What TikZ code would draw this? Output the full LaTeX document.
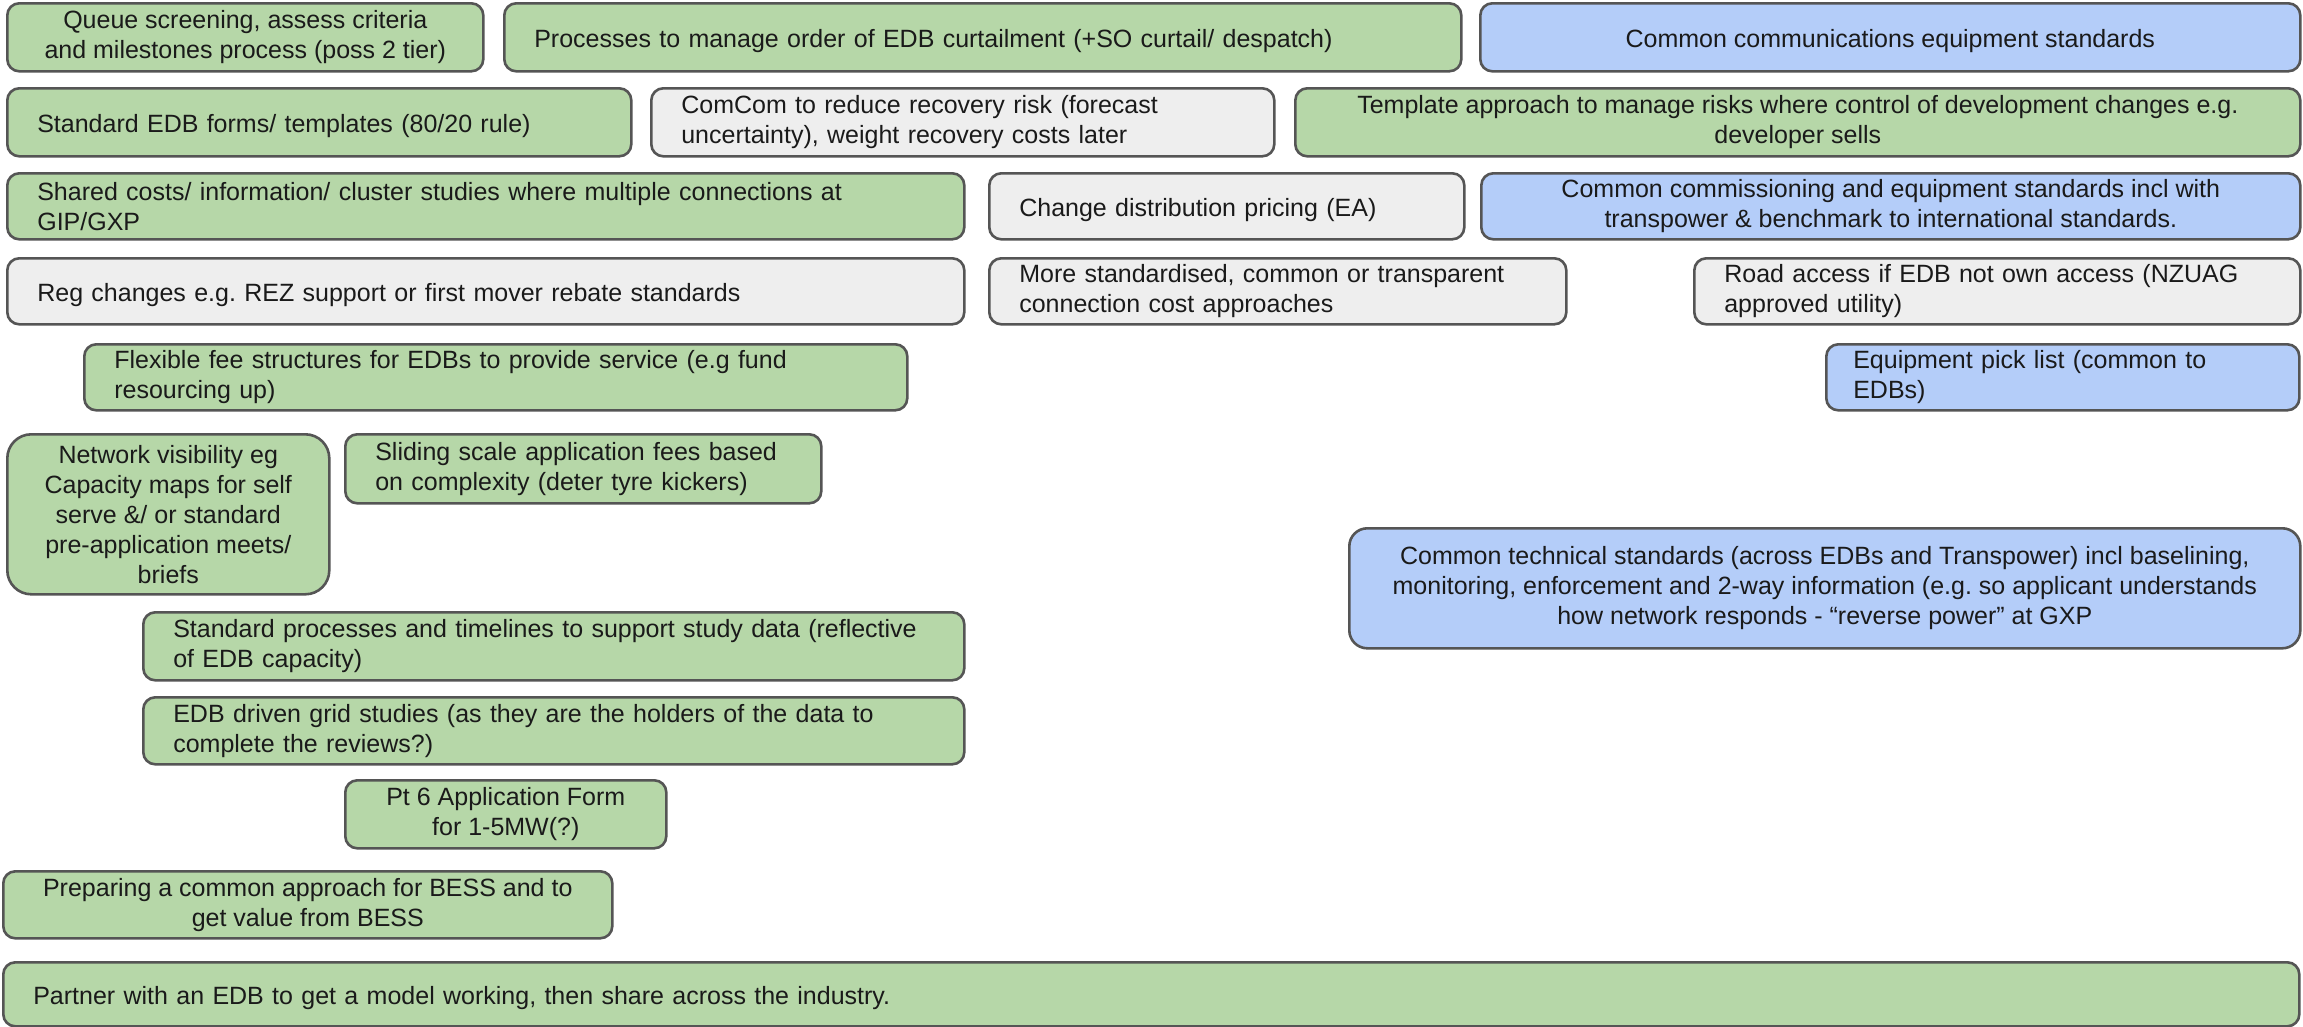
\documentclass[tikz,border=0pt]{standalone}
\usepackage{fontspec}
\setmainfont{Liberation Sans}
\frenchspacing
\definecolor{grnc}{HTML}{B6D7A8}
\definecolor{bluc}{HTML}{B4CDF9}
\definecolor{gryc}{HTML}{EEEEEE}
\definecolor{bordc}{HTML}{555555}
\definecolor{txtc}{HTML}{1A1A1A}
\begin{document}
\begin{tikzpicture}[x=1pt,y=-1pt,
  base/.style={draw=bordc, line width=2.6pt, rounded corners=12pt, inner ysep=0pt,
    font=\fontsize{25pt}{30pt}\selectfont\frenchspacing, text=txtc, anchor=north west},
  grn/.style={base, fill=grnc},
  blu/.style={base, fill=bluc},
  gry/.style={base, fill=gryc},
  lft/.style={align=left, inner xsep=30pt, text width=#1},
  ctr/.style={align=center, inner xsep=8pt},
  one/.style={text height=25pt},
  sz/.style 2 args={minimum width=#1, minimum height=#2}]
\useasboundingbox (0,0) rectangle (2303,1026);
\node[grn, ctr, sz={476pt}{68pt}] (queue) at (6,2) {Queue screening, assess criteria\\and milestones process (poss 2 tier)};
\node[grn, lft=897pt, one, sz={957pt}{68pt}] (proc) at (503,2) {Processes to manage order of EDB curtailment (+SO curtail/ despatch)};
\node[blu, ctr, one, sz={820pt}{68pt}] (comms) at (1479,2) {Common communications equipment standards};
\node[grn, lft=564pt, one, sz={624pt}{68pt}] (forms) at (6,87) {Standard EDB forms/ templates (80/20 rule)};
\node[gry, lft=563pt, sz={623pt}{68pt}] (comcom) at (650,87) {ComCom to reduce recovery risk (forecast\\uncertainty), weight recovery costs later};
\node[grn, ctr, sz={1005pt}{68pt}] (templ) at (1294,87) {Template approach to manage risks where control of development changes e.g.\\developer sells};
\node[grn, lft=897pt, sz={957pt}{66pt}] (shared) at (6,172) {Shared costs/ information/ cluster studies where multiple connections at\\GIP/GXP};
\node[gry, lft=415pt, one, sz={475pt}{66pt}] (change) at (988,172) {Change distribution pricing (EA)};
\node[blu, ctr, sz={819pt}{66pt}] (commiss) at (1480,172) {Common commissioning and equipment standards incl with\\transpower \& benchmark to international standards.};
\node[gry, lft=897pt, one, sz={957pt}{66pt}] (reg) at (6,257) {Reg changes e.g. REZ support or first mover rebate standards};
\node[gry, lft=517pt, sz={577pt}{66pt}] (more) at (988,257) {More standardised, common or transparent\\connection cost approaches};
\node[gry, lft=546pt, sz={606pt}{66pt}] (road) at (1693,257) {Road access if EDB not own access (NZUAG\\approved utility)};
\node[grn, lft=763pt, sz={823pt}{66pt}] (flex) at (83,343) {Flexible fee structures for EDBs to provide service (e.g fund\\resourcing up)};
\node[blu, lft=419pt, sz={473pt}{66pt}, inner xsep=27pt] (pick) at (1825,343) {Equipment pick list (common to\\EDBs)};
\node[grn, ctr, sz={322pt}{160pt}, rounded corners=24pt] (netvis) at (6,433) {Network visibility eg\\Capacity maps for self\\serve \&/ or standard\\pre-application meets/\\briefs};
\node[grn, lft=416pt, sz={476pt}{69pt}] (slide) at (344,433) {Sliding scale application fees based\\on complexity (deter tyre kickers)};
\node[blu, ctr, sz={951pt}{120pt}, rounded corners=18pt] (tech) at (1348,527) {Common technical standards (across EDBs and Transpower) incl baselining,\\monitoring, enforcement and 2-way information (e.g. so applicant understands\\how network responds - “reverse power” at GXP};
\node[grn, lft=761pt, sz={821pt}{68pt}] (stdproc) at (142,611) {Standard processes and timelines to support study data (reflective\\of EDB capacity)};
\node[grn, lft=761pt, sz={821pt}{67pt}] (edbgrid) at (142,696) {EDB driven grid studies (as they are the holders of the data to\\complete the reviews?)};
\node[grn, ctr, sz={321pt}{68pt}] (pt6) at (344,779) {Pt 6 Application Form\\for 1-5MW(?)};
\node[grn, ctr, sz={609pt}{67pt}] (bess) at (2,870) {Preparing a common approach for BESS and to\\get value from BESS};
\node[grn, lft=2236pt, one, sz={2296pt}{64pt}] (partner) at (2,961) {Partner with an EDB to get a model working, then share across the industry.};
\end{tikzpicture}
\end{document}
